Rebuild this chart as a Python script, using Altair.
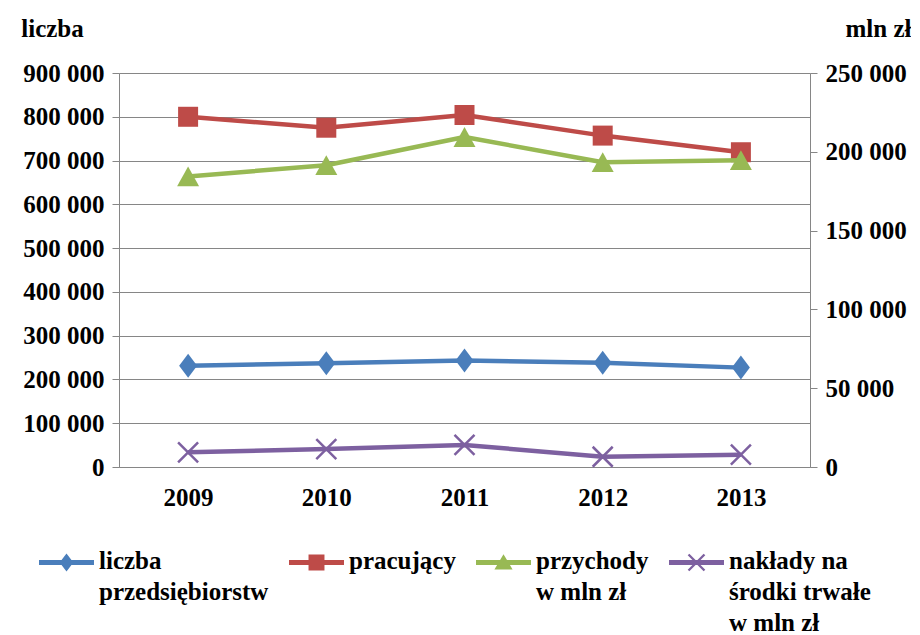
import altair as alt
import pandas as pd

years = ["2009", "2010", "2011", "2012", "2013"]
firms = [231000, 237000, 243000, 238000, 227000]          # liczba przedsiębiorstw (left axis)
employed = [800000, 775000, 804000, 757000, 719000]       # pracujący (left axis)
revenue = [184400, 191500, 209400, 193400, 194700]        # przychody w mln zł (right axis)
capex = [9300, 11400, 14000, 6500, 7800]                  # nakłady na środki trwałe w mln zł (right axis)

names = ["liczba przedsiębiorstw", "pracujący", "przychody w mln zł",
         "nakłady na środki trwałe w mln zł"]
legend_lines = [["liczba", "przedsiębiorstw", ""], ["pracujący", "", ""],
                ["przychody", "w mln zł", ""], ["nakłady na", "środki trwałe", "w mln zł"]]
colors = ["#4A7EBB", "#BE4B48", "#98B954", "#7D60A0"]
left_ticks = [0, 100000, 200000, 300000, 400000, 500000, 600000, 700000, 800000, 900000]
right_ticks = [0, 50000, 100000, 150000, 200000, 250000]

rows = []
for name, vals, side in zip(names, [firms, employed, revenue, capex],
                            ["left", "left", "right", "right"]):
    for y, v in zip(years, vals):
        rows.append({"year": y, "series": name, "value": v, "side": side})
df = pd.DataFrame(rows)

FONT = "Liberation Serif"
FS = 25
GRAY = "#868686"

m_diamond = "M0,-1L0.75,0L0,1L-0.75,0Z"
m_triangle = "M0,-0.9L1,0.9L-1,0.9Z"
m_cross = "M-1,-1L1,1M-1,1L1,-1"

# legend symbols: line + marker, in the -1..1 unit box, shifted down to sit on the first label line
dy = 0.5
def f(v):
    return f"{v:.3f}"
def poly(pts):
    return "M" + "L".join(f"{f(x)},{f(y + dy)}" for x, y in pts) + "Z"

t = 0.09
line = poly([(-1, -t), (1, -t), (1, t), (-1, t)])
a, d = 0.29, 0.03
leg_shapes = [
    line + poly([(0, -0.33), (0.25, 0), (0, 0.33), (-0.25, 0)]),
    line + poly([(-0.29, -0.29), (0.29, -0.29), (0.29, 0.29), (-0.29, 0.29)]),
    line + poly([(0, -0.3), (0.33, 0.25), (-0.33, 0.25)]),
    line + poly([(-a + d, -a - d), (a + d, a - d), (a - d, a + d), (-a - d, -a + d)])
         + poly([(-a - d, a - d), (a - d, -a - d), (a + d, -a + d), (-a + d, a + d)]),
]

label_expr = ""
for n, ls in zip(names, legend_lines):
    arr = "[" + ",".join("'" + s + "'" for s in ls) + "]"
    label_expr += f"datum.label == '{n}' ? {arr} : "
label_expr += "datum.label"

num_expr = "join(split(format(datum.value, ','), ','), ' ')"

x_enc = alt.X("year:O", title=None,
              axis=alt.Axis(labelAngle=0, ticks=False, labelFont=FONT, labelFontSize=FS,
                            labelFontWeight="bold", labelColor="black", labelPadding=18,
                            domainColor=GRAY, grid=False))

base = alt.Chart(df)

def series_layers(i, y_enc, shape, size, filled=True, sw=1):
    src = base.transform_filter(alt.datum.series == names[i])
    ln = src.mark_line(strokeWidth=4.5, strokeJoin="round", color=colors[i]).encode(
        x=x_enc, y=y_enc)
    pt = src.mark_point(shape=shape, size=size, filled=filled, color=colors[i],
                        opacity=1, strokeWidth=sw).encode(x=x_enc, y=y_enc)
    return [ln, pt]

left_y = alt.Y("value:Q", title="liczba",
               scale=alt.Scale(domain=[0, 900000], nice=False),
               axis=alt.Axis(orient="left", values=left_ticks, labelExpr=num_expr,
                             labelFont=FONT, labelFontSize=FS, labelFontWeight="bold",
                             labelColor="black", tickColor=GRAY, tickSize=7, labelPadding=8,
                             domainColor=GRAY, grid=True, gridColor=GRAY, gridOpacity=1,
                             titleFont=FONT, titleFontSize=FS, titleFontWeight="bold",
                             titleAngle=0, titleX=-67, titleY=-45, titleAlign="center",
                             titleBaseline="middle", titleColor="black"))
right_y = alt.Y("value:Q", title="mln zł",
                scale=alt.Scale(domain=[0, 250000], nice=False),
                axis=alt.Axis(orient="right", values=right_ticks, labelExpr=num_expr,
                              labelFont=FONT, labelFontSize=FS, labelFontWeight="bold",
                              labelColor="black", tickColor=GRAY, tickSize=7, labelPadding=8,
                              domainColor=GRAY, grid=False,
                              titleFont=FONT, titleFontSize=FS, titleFontWeight="bold",
                              titleAngle=0, titleX=68, titleY=-45, titleAlign="center",
                              titleBaseline="middle", titleColor="black"))

y_plain = alt.Y("value:Q")

left = alt.layer(*(series_layers(0, left_y, m_diamond, 576)
                   + series_layers(1, y_plain, "square", 400)))
right = alt.layer(*(series_layers(2, right_y, m_triangle, 484)
                    + series_layers(3, y_plain, m_cross, 400, filled=False, sw=2.5)))

legend = alt.Legend(orient="none", legendX=-80, legendY=448, direction="horizontal",
                    columns=4, title=None, symbolSize=3025, symbolStrokeWidth=0,
                    symbolOpacity=1, labelFont=FONT, labelFontSize=FS,
                    labelFontWeight="bold", labelColor="black", labelLimit=400,
                    labelExpr=label_expr, labelBaseline="top", labelOffset=5,
                    columnPadding=20)

legend_layer = base.transform_filter("false").mark_point(filled=True).encode(
    x=x_enc,
    y=alt.Y("value:Q", axis=None),
    color=alt.Color("series:N", scale=alt.Scale(domain=names, range=colors), legend=legend),
    shape=alt.Shape("series:N", scale=alt.Scale(domain=names, range=leg_shapes),
                    legend=legend),
)

chart = alt.layer(left, right, legend_layer).resolve_scale(y="independent").properties(
    width=691, height=394,
    padding={"left": 12, "top": 8, "right": 0, "bottom": 0},
).configure_view(stroke=None).configure(
    background="white", style={"guide-label": {"lineHeight": 31}})

chart.save("out.html", embed_options={"renderer": "svg", "actions": False})
